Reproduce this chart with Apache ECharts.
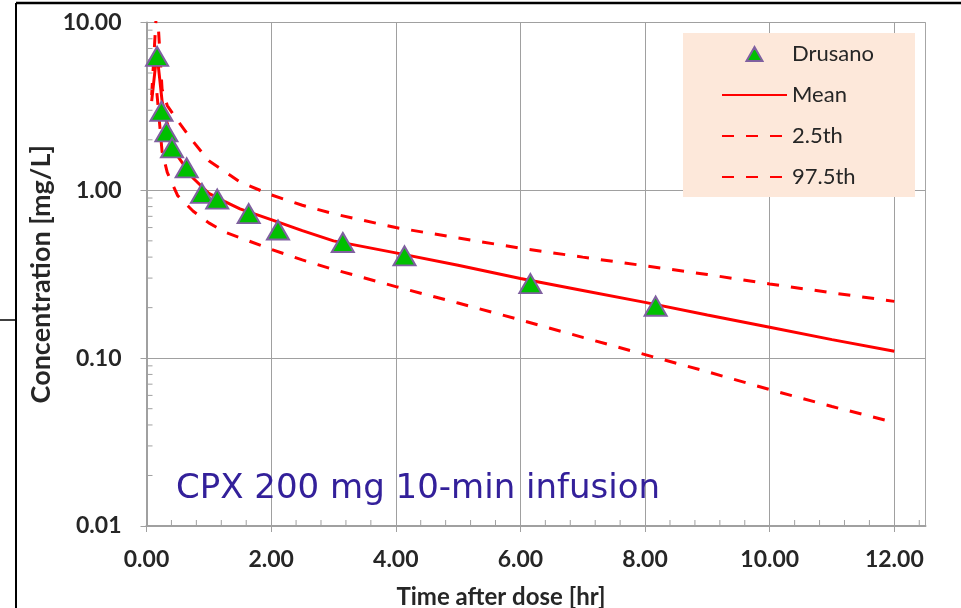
<!DOCTYPE html>
<html><head><meta charset="utf-8">
<script src="https://cdn.jsdelivr.net/npm/echarts@6/dist/echarts.min.js"></script>
<style>html,body{margin:0;padding:0;background:#fff}#c{width:961px;height:608px}</style>
</head><body><div id="c"></div>
<script>
// ---- data ----
const drusanoTime = [0.17, 0.24, 0.32, 0.41, 0.645, 0.89, 1.135, 1.64, 2.11, 3.15, 4.14, 6.16, 8.17];
const drusanoConc = [6.28, 2.96, 2.23, 1.79, 1.36, 0.96, 0.887, 0.726, 0.58, 0.489, 0.407, 0.278, 0.204];

const curveTime = [0.083, 0.167, 0.25, 0.333, 0.5, 0.75, 1, 1.25, 1.5, 2, 2.5, 3, 4, 5, 6, 7, 8, 9, 10, 11, 12];
const meanConc  = [3.4, 6.6, 3.4, 2.5, 1.6, 1.18, 0.96, 0.86, 0.775, 0.669, 0.575, 0.5, 0.424, 0.358, 0.298, 0.253, 0.215, 0.181, 0.153, 0.129, 0.11];
const p025Conc  = [null, 3.8, 1.7, 1.28, 0.93, 0.75, 0.64, 0.565, 0.522, 0.445, 0.385, 0.338, 0.267, 0.213, 0.169, 0.133, 0.105, 0.083, 0.065, 0.0515, 0.0414];
const p975Conc  = [3.7, 13, 4.0, 3.2, 2.6, 1.95, 1.5, 1.3, 1.12, 0.94, 0.815, 0.725, 0.6, 0.52, 0.452, 0.4, 0.355, 0.315, 0.277, 0.245, 0.218];

const xTicks = [0, 2, 4, 6, 8, 10, 12];
const yTicks = [0.01, 0.1, 1, 10];
const xMinorTicks = [0.4, 0.8, 1.2, 1.6, 2.4, 2.8, 3.2, 3.6, 4.4, 4.8, 5.2, 5.6, 6.4, 6.8, 7.2, 7.6, 8.4, 8.8, 9.2, 9.6, 10.4, 10.8, 11.2, 11.6, 12.4];
const yMinorTicks = [0.02, 0.03, 0.04, 0.05, 0.06, 0.07, 0.08, 0.09, 0.2, 0.3, 0.4, 0.5, 0.6, 0.7, 0.8, 0.9, 2, 3, 4, 5, 6, 7, 8, 9];

const seriesNames = ['Drusano', 'Mean', '2.5th', '97.5th'];
const annotation = 'CPX 200 mg 10-min infusion';

// ---- chart ----
const pair = (xs, ys) => xs.map((x, i) => [x, ys[i]]);
const labelFont = { fontFamily: 'Lato', fontWeight: 'bold', fontSize: 23, color: '#262626' };
const gridGray = '#a0a0a0';
const noSymbol = 'path://M0,0L0.01,0.01';
// legend triangle (16x14) centred in a 65x14 icon box
const legendTriangle = 'path://M0,0L0.01,0Z M32.5,0L40.5,14L24.5,14Z M65,14L64.99,14Z';

const chart = echarts.init(document.getElementById('c'), null, { renderer: 'canvas' });
chart.setOption({
  animation: false,
  backgroundColor: '#ffffff',
  grid: { left: 146.5, top: 22.5, width: 779, height: 503.5, show: true, borderColor: '#a6a6a6', borderWidth: 1, containLabel: false, outerBoundsMode: 'none' },
  xAxis: {
    type: 'value', min: 0, max: 12.5, interval: 2,
    name: 'Time after dose [hr]', nameLocation: 'middle', nameGap: 59, nameMoveOverlap: false,
    nameTextStyle: Object.assign({}, labelFont, { fontSize: 24, padding: [0, 70, 0, 0] }),
    axisLine: { show: true, lineStyle: { color: gridGray, width: 2 } },
    axisTick: { show: true, inside: false, length: 6, lineStyle: { color: gridGray, width: 1 }, customValues: xTicks },
    axisLabel: Object.assign({}, labelFont, { margin: 22, customValues: xTicks, formatter: v => Number(v).toFixed(2) }),
    splitLine: { show: true, lineStyle: { color: gridGray, width: 1 } },
    minorTick: { show: false }
  },
  yAxis: {
    type: 'log', logBase: 10, min: 0.01, max: 10,
    name: 'Concentration [mg/L]', nameLocation: 'middle', nameGap: 92, nameMoveOverlap: false,
    nameTextStyle: Object.assign({}, labelFont, { fontSize: 27 }),
    axisLine: { show: true, lineStyle: { color: gridGray, width: 2 } },
    axisTick: { show: true, inside: false, length: 6, lineStyle: { color: gridGray, width: 1 } },
    axisLabel: Object.assign({}, labelFont, { margin: 25, formatter: v => Number(v).toFixed(2) }),
    splitLine: { show: true, lineStyle: { color: gridGray, width: 1 } }
  },
  legend: {
    data: [{ name: 'Drusano', icon: legendTriangle }, 'Mean', '2.5th', '97.5th'],
    orient: 'vertical', left: 683, top: 33,
    padding: [9, 41, 8, 38],
    itemWidth: 65, itemHeight: 14, itemGap: 17,
    backgroundColor: '#fde8da',
    textStyle: { fontFamily: 'Lato', fontSize: 22, color: '#262626', lineHeight: 24 }
  },
  series: [
    {
      name: 'Mean', type: 'line', data: pair(curveTime, meanConc), symbol: noSymbol, showSymbol: false,
      lineStyle: { color: '#ff0000', width: 3 }, itemStyle: { color: '#ff0000' }, z: 3
    },
    {
      name: '2.5th', type: 'line', data: pair(curveTime, p025Conc), symbol: noSymbol, showSymbol: false, connectNulls: false,
      lineStyle: { color: '#ff0000', width: 3, type: [12, 12] }, itemStyle: { color: '#ff0000' }, z: 3
    },
    {
      name: '97.5th', type: 'line', data: pair(curveTime, p975Conc), symbol: noSymbol, showSymbol: false,
      lineStyle: { color: '#ff0000', width: 3, type: [12, 12] }, itemStyle: { color: '#ff0000' }, z: 3
    },
    {
      name: 'Drusano', type: 'scatter', data: pair(drusanoTime, drusanoConc),
      symbol: 'triangle', symbolSize: [22, 19],
      itemStyle: { color: '#00c000', borderColor: '#7f60a0', borderWidth: 2, opacity: 1 }, z: 5
    },
    {
      name: 'yMinor', type: 'custom', silent: true, z: 4,
      data: yMinorTicks.map(v => [0, v]),
      renderItem: (params, api) => {
        const p = api.coord([api.value(0), api.value(1)]);
        return { type: 'line', shape: { x1: p[0] + 1, y1: p[1], x2: p[0] + 6, y2: p[1] }, style: { stroke: gridGray, lineWidth: 1 } };
      }
    },
    {
      name: 'xMinor', type: 'custom', silent: true, z: 4,
      data: xMinorTicks.map(v => [v, 0.01]),
      renderItem: (params, api) => {
        const p = api.coord([api.value(0), api.value(1)]);
        return { type: 'line', shape: { x1: p[0], y1: p[1] - 1, x2: p[0], y2: p[1] - 6 }, style: { stroke: gridGray, lineWidth: 1 } };
      }
    }
  ],
  graphic: [
    { type: 'text', left: 176, top: 472, z: 10, style: { text: annotation, fontFamily: 'DejaVu Sans', fontSize: 34, fill: '#33209a' } },
    { type: 'line', shape: { x1: 16, y1: 3, x2: 961, y2: 3 }, style: { stroke: '#000', lineWidth: 2.5 }, z: 10 },
    { type: 'line', shape: { x1: 16, y1: 3, x2: 16, y2: 608 }, style: { stroke: '#000', lineWidth: 2 }, z: 10 },
    { type: 'line', shape: { x1: 0, y1: 320, x2: 16, y2: 320 }, style: { stroke: '#000', lineWidth: 1.5 }, z: 10 }
  ]
});
</script>
</body></html>
